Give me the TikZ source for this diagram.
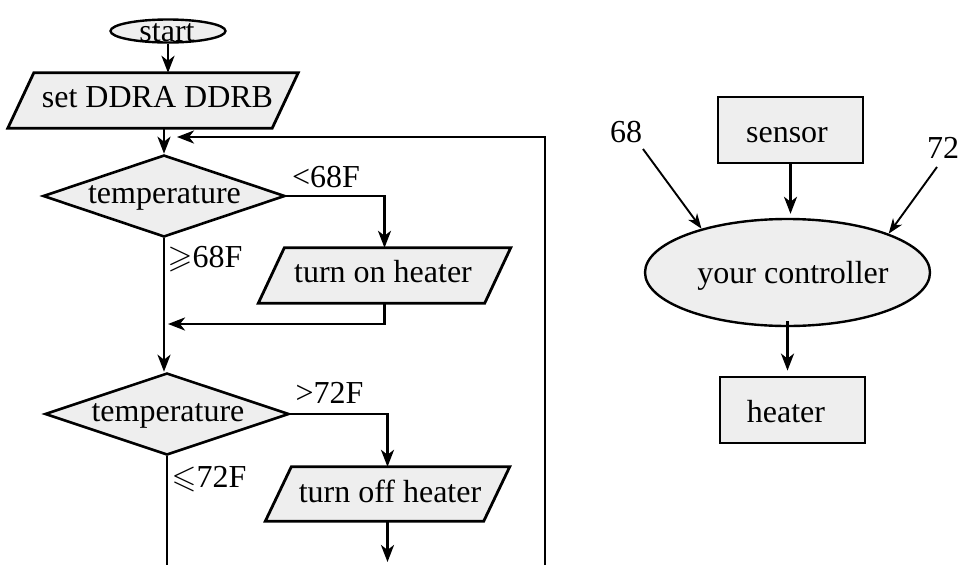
\documentclass[tikz,border=0pt]{standalone}
\usepackage{fontspec}
\setmainfont{Liberation Serif}
\usepackage{amssymb}
\usetikzlibrary{shapes.geometric,arrows.meta,calc}
\definecolor{boxfill}{RGB}{238,238,238}
\tikzset{
  txt/.style={font=\fontsize{32}{38}\selectfont, inner sep=0pt, anchor=base},
  shp/.style={draw, fill=boxfill, line width=2.8pt, inner sep=0pt},
  iobody/.style={rectangle, inner sep=0pt},
  dec/.style={shp, diamond, line width=2.6pt},
  box/.style={shp, rectangle, line width=2.8pt},
  oval/.style={shp, ellipse, line width=2.4pt},
  flowline/.style={line width=2.8pt},
  arr/.style={line width=2.8pt, -{Stealth[length=17pt,width=13pt,inset=5pt]}},
  thinarr/.style={line width=1.9pt, -{Stealth[length=15pt,width=11pt,inset=4.5pt]}}
}
% parallelogram drawn around a named body rectangle (half slant = 13)
\newcommand{\ioshape}[1]{%
  \draw[shp, line join=miter] ($(#1.north west)+(13,0)$) -- ($(#1.north east)+(13,0)$)
     -- ($(#1.south east)+(-13,0)$) -- ($(#1.south west)+(-13,0)$) -- cycle;}
\begin{document}
\begin{tikzpicture}[x=1pt,y=-1pt]
\useasboundingbox (0,0) rectangle (960,565);
% ---- flowchart shapes
\node[oval, minimum width=115pt, minimum height=23pt] (start) at (168,31) {};
\node[iobody, minimum width=264pt, minimum height=55pt] (P1) at (153,100.5) {};
\ioshape{P1}
\node[dec, minimum width=242pt, minimum height=82pt] (D1) at (164,196) {};
\node[iobody, minimum width=226pt, minimum height=55pt] (P2) at (384.5,275.5) {};
\ioshape{P2}
\node[dec, minimum width=244pt, minimum height=82pt] (D2) at (167,414) {};
\node[iobody, minimum width=218pt, minimum height=54pt] (P3) at (387.5,494) {};
\ioshape{P3}
% ---- block diagram shapes
\node[box, minimum width=145pt, minimum height=66pt] (sensor) at (790.5,130) {};
\node[oval, minimum width=285pt, minimum height=107pt] (ctrl) at (787.5,272.5) {};
\node[box, minimum width=145pt, minimum height=66pt] (heater) at (792.5,410) {};
% ---- texts
\node[txt] (tStart) at (167,41) {start};
\node[txt] (tP1) at (157.5,107) {set DDRA DDRB};
\node[txt] (tD1) at (164.5,203) {temperature};
\node[txt] (tP2) at (383,282) {turn on heater};
\node[txt] (tD2) at (168,421) {temperature};
\node[txt] (tP3) at (390,502) {turn off heater};
\node[txt] (l1) at (326,187) {<68F};
\node[txt] (l2) at (205,267) {$\geqslant$68F};
\node[txt] (l3) at (329.5,403) {>72F};
\node[txt] (l4) at (209,487) {$\leqslant$72F};
\node[txt] (tSensor) at (787,142) {sensor};
\node[txt] (tCtrl) at (793,283) {your controller};
\node[txt] (tHeater) at (786,422) {heater};
\node[txt] (l68) at (626,142) {68};
\node[txt] (l72) at (943,158) {72};
% ---- free ends
\coordinate (fbBot) at (545,565);
\coordinate (fbTip) at (177,137);
\coordinate (ret1) at (168,324);
\coordinate (offEnd) at (387.5,562);
\coordinate (mainEnd) at (167,565);
\coordinate (c68) at (643,149);
\coordinate (c72) at (937,167);
% ---- connectors
\draw[arr] (start.south) -- (start.south |- P1.north);
\draw[arr] (D1.north |- P1.south) -- (D1.north);
\draw[arr] (fbBot) |- (fbTip);
\draw[arr] (D1.east) -| (P2.north);
\draw[arr] (P2.south) |- (ret1);
\draw[arr] (D1.south) -- (D1.south |- D2.north);
\draw[arr] (D2.east) -| (P3.north);
\draw[arr] (P3.south) -- (offEnd);
\draw[flowline] (D2.south) -- (mainEnd);
\draw[arr, line width=2.6pt, shorten >=4pt] (sensor.south) -- (sensor.south |- ctrl.north);
\draw[arr, line width=2.6pt, shorten <=-6pt, shorten >=5pt] (ctrl.south) -- (ctrl.south |- heater.north);
\draw[thinarr] (c68) -- (ctrl.153);
\draw[thinarr] (c72) -- (ctrl.21);
\end{tikzpicture}
\end{document}
